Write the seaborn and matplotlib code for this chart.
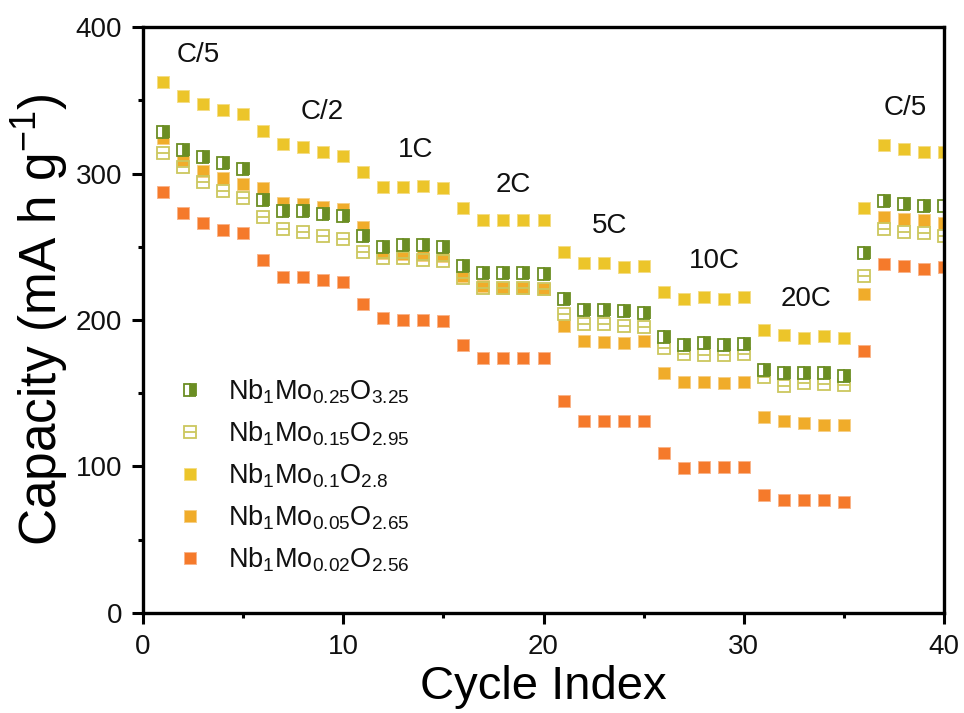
import numpy as np
import pandas as pd
import matplotlib
matplotlib.use("Agg")
import matplotlib.pyplot as plt
import seaborn as sns

cycles = list(range(1, 41))
nb025 = [328.5, 316, 311, 307, 303, 282, 274.6, 274.6, 272.6, 271,
         257.6, 250, 251, 251, 250, 237, 232.4, 232, 232, 231.7,
         214, 207, 207, 206, 205, 188.7, 182.6, 184, 183, 183.5,
         166, 164, 164, 164, 161.5, 246, 281, 279, 278, 278]
nb015 = [314, 304.6, 294.5, 288, 283.5, 270, 262, 260, 257, 255,
         246.7, 242.6, 242, 241, 240, 229, 222, 222, 222, 221,
         204, 197.6, 197, 195.6, 195.5, 180.6, 176.5, 176, 176, 176.5,
         161, 154.7, 157, 156, 155.5, 230, 262, 260, 259.6, 257]
nb01 = [362.5, 353, 347.5, 343.5, 340.7, 329, 320, 318, 315, 312,
        301, 291, 291, 291.7, 290, 276.7, 268.5, 268, 268, 268,
        246.5, 239, 239, 236.5, 237, 219, 214.6, 215.5, 214.6, 215.5,
        193.5, 190, 188, 189, 188, 276.7, 319.6, 317, 315, 315]
nb005 = [324, 309, 302, 297, 293, 290, 280, 279, 277.4, 276,
         263.7, 246, 245, 244.6, 244, 229.7, 223, 222, 222, 221,
         196, 185.4, 185, 184, 185.5, 164, 157.4, 157.7, 156.7, 157.5,
         134, 131, 129.5, 128, 128, 218, 270, 269, 268.5, 266]
nb002 = [287.5, 273, 266, 261.6, 259.6, 241, 229.6, 229.6, 227.6, 226,
         211, 201.7, 200, 200, 199, 182.7, 173.8, 174, 174, 174,
         144.5, 131, 131, 131, 131, 109, 98.8, 99.5, 99.5, 99.5,
         80.4, 77, 77, 77, 75.6, 179, 238.5, 237, 235, 236.5]

labels = [r"Nb$_1$Mo$_{0.25}$O$_{3.25}$", r"Nb$_1$Mo$_{0.15}$O$_{2.95}$",
          r"Nb$_1$Mo$_{0.1}$O$_{2.8}$", r"Nb$_1$Mo$_{0.05}$O$_{2.65}$",
          r"Nb$_1$Mo$_{0.02}$O$_{2.56}$"]
rate_labels = ["C/5", "C/2", "1C", "2C", "5C", "10C", "20C", "C/5"]
rate_x = [2.75, 8.95, 13.6, 18.5, 23.3, 28.55, 33.1, 38.05]
rate_y = [381, 342, 316, 292, 264, 240, 214, 345]

sns.set_theme(style="ticks")
plt.rcParams["font.family"] = ["Liberation Sans", "DejaVu Sans"]
plt.rcParams["mathtext.default"] = "regular"
plt.rcParams["text.color"] = "black"
plt.rcParams["axes.labelcolor"] = "black"

c_green = "#6B8E23"
c_hollow = "#CBC75E"
c_yellow = "#ECC52A"
c_oy = "#F0AC2A"
c_orange = "#F57A2B"

fig = plt.figure(figsize=(9.64, 7.13), dpi=100)
ax = fig.add_axes([0.1483, 0.1403, 0.8310, 0.8218])

ms = 9.2
df = pd.DataFrame({"cycle": cycles, "g": nb025, "h": nb015, "y": nb01,
                   "oy": nb005, "o": nb002})

def draw(col, **kw):
    sns.lineplot(data=df, x="cycle", y=col, ax=ax, linestyle="",
                 markersize=ms, legend=False, **kw)
    return ax.lines[-1]

h_o = draw("o", marker="s", color=c_orange, markerfacecolor=c_orange,
           markeredgecolor="#F9B48A", markeredgewidth=0.7)
h_oy = draw("oy", marker="s", color=c_oy, markerfacecolor=c_oy,
            markeredgecolor="#F6CF86", markeredgewidth=0.7)
h_y = draw("y", marker="s", color=c_yellow, markerfacecolor=c_yellow,
           markeredgecolor="#F4DD86", markeredgewidth=0.7)
h_h1 = draw("h", marker="s", color=c_hollow, markerfacecolor="none",
            markeredgecolor=c_hollow, markeredgewidth=1.3)
h_h2 = draw("h", marker="_", color=c_hollow, markeredgecolor=c_hollow,
            markeredgewidth=1.3)
h_g = draw("g", marker="s", color=c_green, markerfacecolor=c_green,
           fillstyle="right", markerfacecoloralt="white",
           markeredgecolor=c_green, markeredgewidth=1.3)

for t, xx, yy in zip(rate_labels, rate_x, rate_y):
    ax.text(xx, yy, t, fontsize=20, ha="center", va="center", color="#111111")

ax.set_xlim(0, 40)
ax.set_ylim(0, 400)
ax.set_xticks([0, 10, 20, 30, 40])
ax.set_yticks([0, 100, 200, 300, 400])
ax.set_xticks([5, 15, 25, 35], minor=True)
ax.set_yticks([50, 150, 250, 350], minor=True)
ax.tick_params(which="major", direction="out", length=8, width=2.2,
               labelsize=20, colors="black", labelcolor="#111111", pad=7)
ax.tick_params(which="minor", direction="out", length=3.5, width=2.2,
               colors="black")
for s in ax.spines.values():
    s.set_visible(True)
    s.set_linewidth(2.4)
    s.set_color("black")

ax.set_xlabel("Cycle Index", fontsize=34, labelpad=4)
ax.set_ylabel("Capacity (mA h g$^{-1}$)", fontsize=37, labelpad=3)

leg = ax.legend([h_g, (h_h1, h_h2), h_y, h_oy, h_o], labels,
                loc="upper left", bbox_to_anchor=(0.03, 0.42),
                frameon=False, fontsize=19.5, handlelength=0.9,
                handletextpad=0.95, labelspacing=0.5, borderaxespad=0)
for t in leg.get_texts():
    t.set_color("#111111")

fig.savefig("out.png", dpi=100)
